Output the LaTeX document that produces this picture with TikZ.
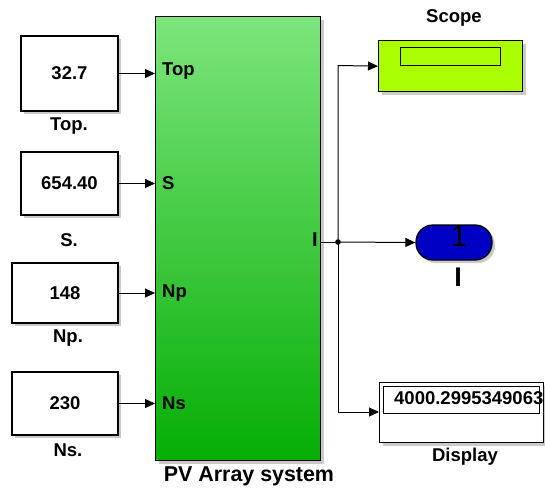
\documentclass[tikz,border=0pt]{standalone}
\usepackage{fontspec}
\setmainfont{Liberation Sans}
\usetikzlibrary{shadows,arrows.meta}
\definecolor{pvtop}{HTML}{7CE57C}
\definecolor{pvbot}{HTML}{05AE05}
\definecolor{scopefill}{HTML}{AAFF00}
\definecolor{gotofill}{HTML}{0000C4}
\begin{document}
\begin{tikzpicture}[x=1pt,y=-1pt,
  shade/.style={drop shadow={shadow xshift=3pt,shadow yshift=-3pt,opacity=0.35,fill=black!60}},
  blk/.style={draw=black,line width=1.3pt,fill=white,shade,inner sep=0pt,
    font=\fontsize{18.5}{18.5}\selectfont\bfseries},
  lbl/.style={inner sep=0pt,font=\fontsize{18.5}{18.5}\selectfont\bfseries},
  port/.style={inner sep=0pt,anchor=west,font=\fontsize{18.5}{18.5}\selectfont\bfseries},
  sig/.style={draw,line width=1pt,-{Triangle[length=10pt,width=9pt]}},
  wire/.style={draw,line width=1pt}
]
\useasboundingbox (0,0) rectangle (545,488);

% PV array subsystem
\node[draw=black,line width=1.3pt,top color=pvtop,bottom color=pvbot,shade,
  minimum width=165pt,minimum height=444pt,anchor=north west,inner sep=0pt]
  (pv) at (155,16) {};
\node[inner sep=0pt,font=\fontsize{21.4}{21.4}\selectfont\bfseries] (pvlbl) at (249,476) {PV Array system};

% input ports
\node[port] (pTop) at (162,71) {Top};
\node[port] (pS) at (162,183) {S};
\node[port] (pNp) at (162,293) {Np};
\node[port] (pNs) at (162,403) {Ns};
\node[inner sep=0pt,anchor=east,font=\fontsize{20}{20}\selectfont\bfseries] (pI) at (318,240) {I};

% constant blocks
\node[blk,minimum width=97pt,minimum height=75pt] (cTop) at (69.5,73.5) {32.7};
\node[blk,minimum width=97pt,minimum height=63pt] (cS) at (69.5,183.5) {654.40};
\node[blk,minimum width=106pt,minimum height=60pt] (cNp) at (65,293) {148};
\node[blk,minimum width=106pt,minimum height=63pt] (cNs) at (65,403.5) {230};

\node[lbl] (lTop) at (69,126) {Top.};
\node[lbl] (lS) at (69,240) {S.};
\node[lbl] (lNp) at (68,338) {Np.};
\node[lbl] (lNs) at (68,450) {Ns.};

\draw[sig] (cTop.east) -- (pv.west |- cTop.east);
\draw[sig] (cS.east) -- (pv.west |- cS.east);
\draw[sig] (cNp.east) -- (pv.west |- cNp.east);
\draw[sig] (cNs.east) -- (pv.west |- cNs.east);

% scope
\node[draw=black,line width=1.3pt,fill=scopefill,shade,minimum width=144pt,
  minimum height=51pt,anchor=north west,inner sep=0pt] (scope) at (378,40) {};
\node[draw=black,line width=1.3pt,minimum width=100pt,minimum height=18pt,
  anchor=north west,inner sep=0pt] (scopewin) at (400,47) {};
\node[lbl] (lScope) at (454,18) {Scope};

% goto tag
\node[draw=black,line width=1.3pt,fill=gotofill,shade,rounded corners=17pt,
  minimum width=76pt,minimum height=35pt,inner sep=0pt] (goto) at (454,242.5) {};
\node[inner sep=0pt,font=\fontsize{30}{30}\selectfont] (gotonum) at (459,236) {1};
\node[inner sep=0pt,font=\fontsize{27}{27}\selectfont\bfseries] (lGoto) at (458,277) {I};

% display
\node[draw=black,line width=1.3pt,fill=white,shade,minimum width=164pt,
  minimum height=60pt,anchor=north west,inner sep=0pt] (disp) at (379,382) {};
\node[draw=black,line width=1.3pt,minimum width=156pt,minimum height=27pt,
  anchor=north west,inner sep=0pt] (dispwin) at (383,386) {};
\node[inner sep=0pt,anchor=west,font=\fontsize{18.5}{18.5}\selectfont\bfseries] (dispval) at (394,398) {4000.2995349063};
\node[lbl] (lDisp) at (465,457) {Display};

% output wiring
\coordinate (jn) at (338,242);
\coordinate (jup) at (338,65.5);
\coordinate (jdn) at (338,412);
\draw[wire] (pv.east |- jn) -- (jn);
\fill (jn) circle (2.8pt);
\draw[sig] (jn) -- (goto.west);
\draw[sig] (jn) -- (jup) -- (scope.west);
\draw[sig] (jn) -- (jdn) -- (disp.west |- jdn);
\end{tikzpicture}
\end{document}
